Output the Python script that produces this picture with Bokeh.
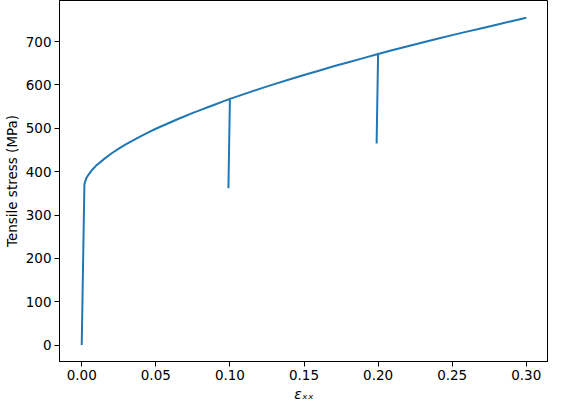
from bokeh.plotting import figure
from bokeh.models import Range1d, FixedTicker, NumeralTickFormatter
from bokeh.embed import file_html
from bokeh.resources import INLINE

# Strain (total) and tensile stress (MPa)
strain = [0.0, 0.0018, 0.0022, 0.003, 0.004, 0.005, 0.007, 0.010, 0.015, 0.020,
          0.025, 0.030, 0.035, 0.040, 0.045, 0.050, 0.055, 0.060, 0.065, 0.070,
          0.075, 0.080, 0.085, 0.090, 0.095, 0.100,
          0.099, 0.100,
          0.110, 0.120, 0.130, 0.140, 0.150, 0.160, 0.170, 0.180, 0.190, 0.200,
          0.199, 0.200,
          0.210, 0.220, 0.230, 0.240, 0.250, 0.260, 0.270, 0.280, 0.290, 0.300]
stress = [0, 370, 376, 384, 390, 395, 404, 415, 429, 442,
          453, 463.5, 473, 482, 490.5, 499, 506.5, 514, 521.5, 528.5,
          535.5, 542, 548.5, 555, 561.5, 568,
          362, 568,
          579.5, 591, 602, 612.5, 623, 633, 643, 652.5, 662, 671.5,
          465, 671.5,
          680.5, 689.5, 698, 706.5, 715, 723, 731, 739, 747, 755]

x_ticks = [0.0, 0.05, 0.10, 0.15, 0.20, 0.25, 0.30]
y_ticks = [0, 100, 200, 300, 400, 500, 600, 700]

p = figure(width=548, height=404, output_backend="svg", toolbar_location=None,
           x_range=Range1d(-0.015, 0.315), y_range=Range1d(-37.85, 794.85),
           min_border_left=50, min_border_right=0, min_border_top=0, min_border_bottom=36)

p.line(strain, stress, line_color="#1f77b4", line_width=2)

p.xgrid.visible = False
p.ygrid.visible = False
p.outline_line_color = "black"
p.outline_line_width = 1
p.background_fill_color = "white"
p.border_fill_color = "white"

p.xaxis.ticker = FixedTicker(ticks=x_ticks)
p.yaxis.ticker = FixedTicker(ticks=y_ticks)
p.xaxis.formatter = NumeralTickFormatter(format="0.00")
p.yaxis.formatter = NumeralTickFormatter(format="0")

for ax in (p.xaxis, p.yaxis):
    ax.axis_line_color = "black"
    ax.major_tick_line_color = "black"
    ax.major_tick_out = 5
    ax.major_tick_in = 0
    ax.minor_tick_line_color = None
    ax.major_label_standoff = 3
    ax.axis_label_standoff = 3
    ax.major_label_text_font = "DejaVu Sans"
    ax.major_label_text_font_size = "13.5px"
    ax.major_label_text_color = "black"
    ax.axis_label_text_font = "DejaVu Sans"
    ax.axis_label_text_font_size = "13.5px"
    ax.axis_label_text_color = "black"
    ax.axis_label_text_font_style = "normal"

p.xaxis.axis_label = "εₓₓ"
p.xaxis.axis_label_text_font_style = "italic"
p.yaxis.axis_label = "Tensile stress (MPa)"

open("out.html", "w").write(file_html(p, INLINE))
